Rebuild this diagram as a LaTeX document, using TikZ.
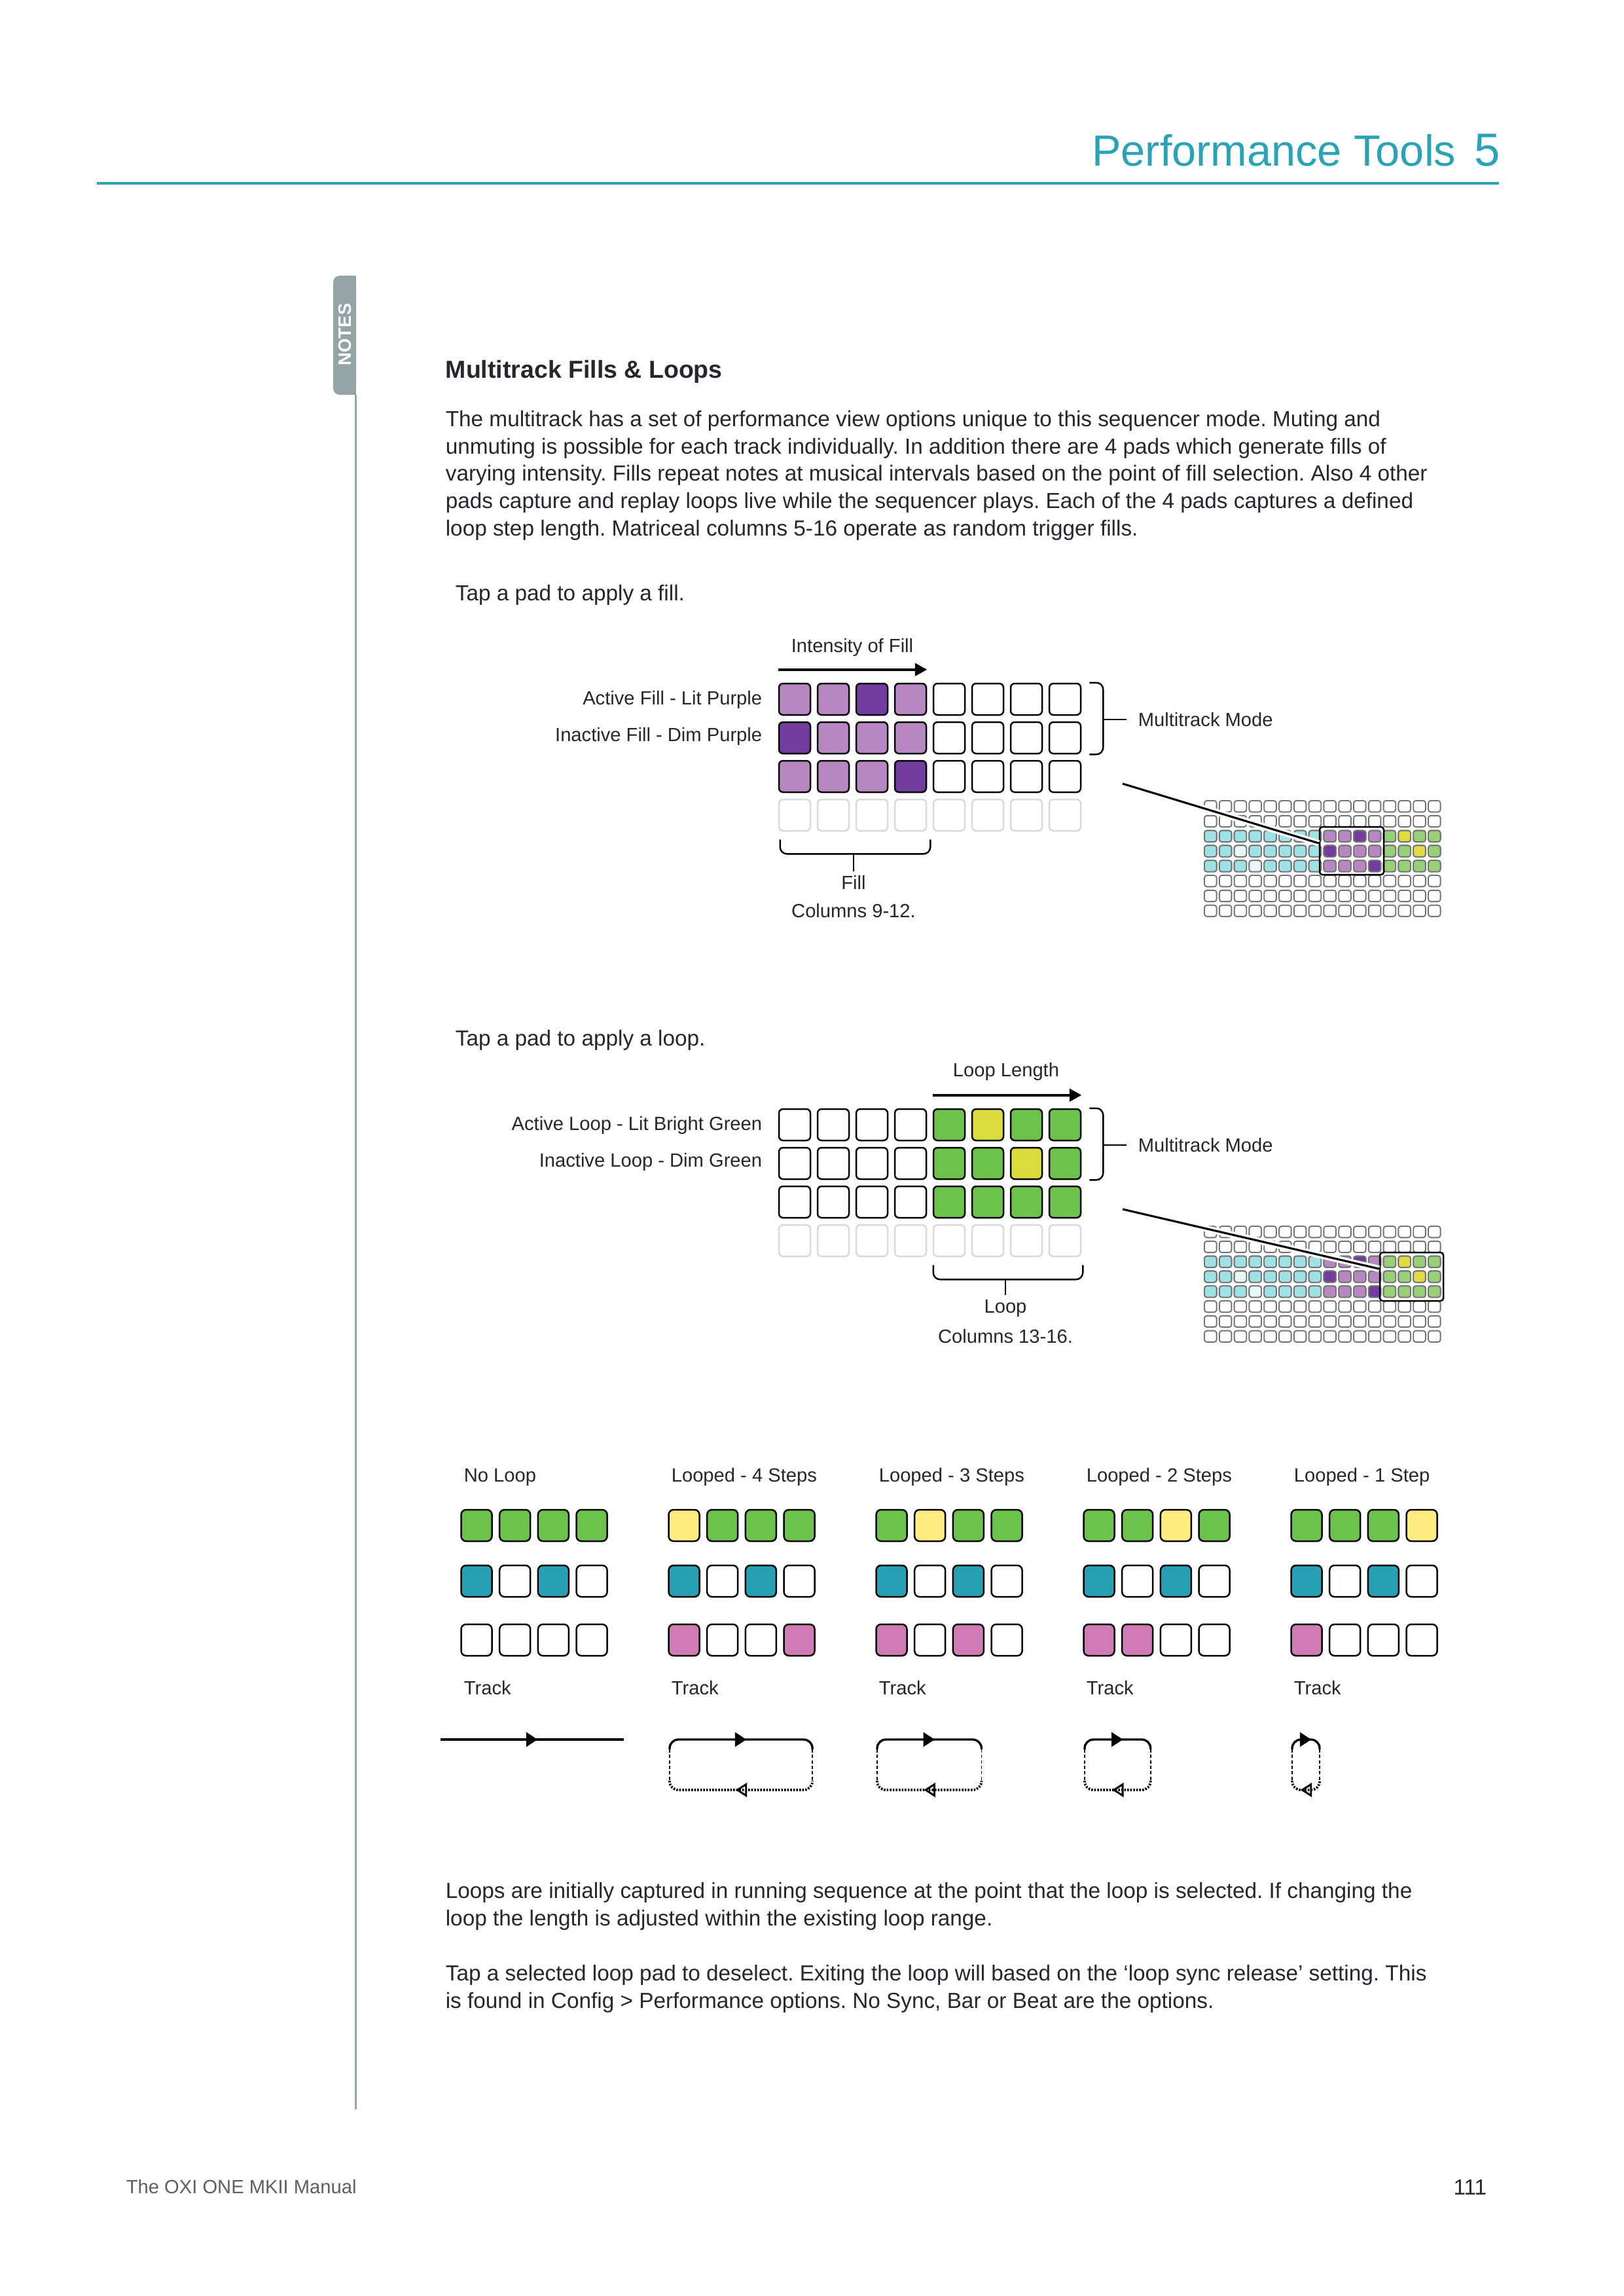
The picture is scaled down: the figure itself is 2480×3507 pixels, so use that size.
\documentclass[tikz,border=0pt]{standalone}
\usepackage{fontspec}
\setmainfont{Liberation Sans}
\usetikzlibrary{arrows.meta,decorations.markings}
\frenchspacing

\newlength{\unitpx}
\setlength{\unitpx}{0.240031pt}

\definecolor{headteal}{RGB}{42,163,184}
\definecolor{tabgray}{RGB}{147,164,167}
\definecolor{ink}{RGB}{38,38,44}
\definecolor{footgray}{RGB}{95,95,95}
\definecolor{pl}{RGB}{183,135,194}
\definecolor{pd}{RGB}{115,60,158}
\definecolor{gn}{RGB}{108,194,74}
\definecolor{yl}{RGB}{218,220,62}
\definecolor{ly}{RGB}{255,235,127}
\definecolor{bl}{RGB}{40,160,180}
\definecolor{pk}{RGB}{208,123,181}
\definecolor{cy}{RGB}{158,226,230}
\definecolor{cp}{RGB}{232,248,248}
\definecolor{mg}{RGB}{151,208,119}
\definecolor{my}{RGB}{222,220,64}

\tikzset{
  bigpad/.style={draw=black, line width=0.6pt, rounded corners=1.5pt, minimum width=48\unitpx, minimum height=48\unitpx, inner sep=0pt, fill=white},
  ghostpad/.style={bigpad, draw=black!15},
  trackpad/.style={bigpad, minimum width=47\unitpx, rounded corners=1.8pt},
  gridcell/.style={draw=black!55, line width=0.45pt, rounded corners=0.9pt},
  lbl/.style={font=\fontsize{7}{8.4}\selectfont, text=ink, inner sep=0pt},
  body/.style={font=\fontsize{8}{10}\selectfont, text=ink, align=left, inner sep=0pt, anchor=base west},
  bracket/.style={line width=0.6pt, rounded corners=2.5pt},
  zoomline/.style={line width=0.75pt, preaction={draw=white, line width=2.4pt}},
  hibox/.style={draw, line width=0.6pt, rounded corners=1pt, inner sep=0pt},
  midfill/.style={decoration={markings, mark=at position 0.5 with {\arrow[xshift=2pt]{Triangle[length=4.2pt,width=5.2pt]}}}, postaction=decorate},
  midopen/.style={decoration={markings, mark=at position 0.5 with {\arrowreversed[xshift=-2pt]{Triangle[open,length=4.2pt,width=5.2pt,line width=0.7pt]}}}, postaction=decorate},
}

\begin{document}
\begin{tikzpicture}[x=\unitpx, y=-\unitpx]

            \fill[white] (0,0) rectangle (2480,3507);
            \useasboundingbox (0,0) rectangle (2480,3507);

             %header
             \node[font=\fontsize{16}{19}\selectfont, text=headteal, anchor=base east, inner sep=0pt] (title) at (2225,254) {Performance Tools};
             \node[font=\fontsize{17}{20}\selectfont, text=headteal, anchor=base east, inner sep=0pt] (chap) at (2293,254) {5};
             \draw[headteal, line width=0.9pt] (148,280) -- (2290,280);

             %notes tab
             \fill[tabgray, rounded corners=2.4pt] (509,421) rectangle (544,603);
             \fill[tabgray] (528,421) rectangle (544,603);
             \draw[tabgray, line width=0.6pt] (543.5,603) -- (543.5,3222);
             \node[rotate=90, text=white, font=\bfseries\fontsize{6.6}{8}\selectfont, inner sep=0pt] (notes) at (527,511) {NOTES};

             % multi-line nodes sit on the baseline of their last line
             \node[body, font=\bfseries\fontsize{9}{11}\selectfont] (head) at (680,577) {Multitrack Fills \& Loops};
             \node[body] (intro) at (680,818) {The multitrack has a set of performance view options unique to this sequencer mode. Muting and\\
                 unmuting is possible for each track individually. In addition there are 4 pads which generate fills of\\
                 varying intensity. Fills repeat notes at musical intervals based on the point of fill selection. Also 4 other\\
                 pads capture and replay loops live while the sequencer plays. Each of the 4 pads captures a defined\\
                 loop step length. Matriceal columns 5-16 operate as random trigger fills.};

             %fills
             \node[body] (tapfill) at (695,917) {Tap a pad to apply a fill.};
             \foreach \r/\row in {1/{pl,pl,pd,pl,white,white,white,white},2/{pd,pl,pl,pl,white,white,white,white},3/{pl,pl,pl,pd,white,white,white,white}}
                 \foreach \col [count=\c] in \row
                     \node[bigpad, fill=\col] (f-\r-\c) at ({1214+59*(\c-1)},{1068+59*(\r-1)}) {};
             \foreach \c in {1,...,8}
                 \node[ghostpad] (f-4-\c) at ({1214+59*(\c-1)},1245) {};

             \node[lbl] (fint) at (1302,989) {Intensity of Fill};
             \draw[line width=0.9pt, -{Triangle[length=4.4pt,width=4.6pt]}] ([yshift=20\unitpx]f-1-1.north west) -- ([yshift=20\unitpx]f-1-4.north east);
             \node[lbl, anchor=east] (fact) at (1165,1069) {Active Fill - Lit Purple};
             \node[lbl, anchor=east] (finact) at (1165,1125) {Inactive Fill - Dim Purple};

             \draw[bracket] ([xshift=12\unitpx]f-1-8.north east) -- ++(21\unitpx,0) |- ([xshift=12\unitpx]f-2-8.south east);
             \coordinate (ftick) at (1684,1099);
             \node[lbl, anchor=west, inner xsep=17\unitpx] (fmode) at (1721,1099) {Multitrack Mode};
             \draw[line width=0.6pt] (ftick) -- (fmode.west);

             \draw[bracket] ([shift={(3\unitpx,-12\unitpx)}]f-4-1.south west) -- ++(0,-22\unitpx) -| ([shift={(5\unitpx,-12\unitpx)}]f-4-4.south east);
             \coordinate (fstem) at (1304,1303);
             \node[lbl] (ffill) at (1304,1348) {Fill};
             \node[lbl] (fcols) at (1304,1391) {Columns 9-12.};
             \draw[line width=0.5pt] (fstem) -- ([yshift=6\unitpx]ffill.north);

             %loops
             \node[body] (taploop) at (695,1597) {Tap a pad to apply a loop.};
             \foreach \r/\row in {1/{white,white,white,white,gn,yl,gn,gn},2/{white,white,white,white,gn,gn,yl,gn},3/{white,white,white,white,gn,gn,gn,gn}}
                 \foreach \col [count=\c] in \row
                     \node[bigpad, fill=\col] (l-\r-\c) at ({1214+59*(\c-1)},{1718+59*(\r-1)}) {};
             \foreach \c in {1,...,8}
                 \node[ghostpad] (l-4-\c) at ({1214+59*(\c-1)},1895) {};

             \node[lbl] (llen) at (1537,1637) {Loop Length};
             \draw[line width=0.9pt, -{Triangle[length=4.4pt,width=4.6pt]}] ([yshift=20\unitpx]l-1-5.north west) -- ([yshift=20\unitpx]l-1-8.north east);
             \node[lbl, anchor=east] (lact) at (1165,1719) {Active Loop - Lit Bright Green};
             \node[lbl, anchor=east] (linact) at (1165,1775) {Inactive Loop - Dim Green};

             \draw[bracket] ([xshift=12\unitpx]l-1-8.north east) -- ++(21\unitpx,0) |- ([xshift=12\unitpx]l-2-8.south east);
             \coordinate (ltick) at (1684,1749);
             \node[lbl, anchor=west, inner xsep=17\unitpx] (lmode) at (1721,1749) {Multitrack Mode};
             \draw[line width=0.6pt] (ltick) -- (lmode.west);

             \draw[bracket] ([shift={(1\unitpx,-12\unitpx)}]l-4-5.south west) -- ++(0,-22\unitpx) -| ([shift={(2\unitpx,-12\unitpx)}]l-4-8.south east);
             \coordinate (lstem) at (1536,1953);
             \node[lbl] (lloop) at (1536,1998) {Loop};
             \node[lbl] (lcols) at (1536,2041) {Columns 13-16.};
             \draw[line width=0.5pt] (lstem) -- ([yshift=6\unitpx]lloop.north);

             %mini grids
             \foreach \oy in {0,650}{
                 \foreach \r in {0,...,7}
                     \foreach \c in {0,...,15}
                         \draw[gridcell, fill=white] ({1840+22.8*\c},{1223+\oy+22.8*\r}) rectangle ++(18.6,17.3);
                 \foreach \r/\row in {2/{cy,cy,cy,cy,cy,cy,cy,cy,pl,pl,pd,pl,mg,my,mg,mg},3/{cy,cy,cp,cy,cy,cy,cy,cy,pd,pl,pl,pl,mg,mg,my,mg},4/{cy,cy,cy,cp,cy,cy,cy,cy,pl,pl,pl,pd,mg,mg,mg,mg}}
                     \foreach \col [count=\c from 0] in \row
                         \draw[gridcell, fill=\col] ({1840+22.8*\c},{1223+\oy+22.8*\r}) rectangle ++(18.6,17.3);
             }
             \node[hibox, minimum width=98\unitpx, minimum height=73\unitpx] (fbox) at (2065,1299.5) {};
             \node[hibox, minimum width=97\unitpx, minimum height=74\unitpx] (lbox) at (2156.5,1950) {};
             \coordinate (fsrc) at (1715,1197);
             \coordinate (lsrc) at (1715,1847);
             \draw[zoomline] (fsrc) -- ([yshift=11.5\unitpx]fbox.west);
             \draw[zoomline] (lsrc) -- ([yshift=12\unitpx]lbox.west);

             %loop lengths
             \foreach \g/\ttl/\ra/\rb/\rc in {0/No Loop/{gn,gn,gn,gn}/{bl,white,bl,white}/{white,white,white,white},
                     1/Looped - 4 Steps/{ly,gn,gn,gn}/{bl,white,bl,white}/{pk,white,white,pk},
                     2/Looped - 3 Steps/{gn,ly,gn,gn}/{bl,white,bl,white}/{pk,white,pk,white},
                     3/Looped - 2 Steps/{gn,gn,ly,gn}/{bl,white,bl,white}/{pk,pk,white,white},
                     4/Looped - 1 Step/{gn,gn,gn,ly}/{bl,white,bl,white}/{pk,white,white,white}}{
                 \node[lbl, anchor=west] (t-\g) at ({708+317*\g},2256) {\ttl};
                 \foreach \col [count=\c from 0] in \ra
                     \node[trackpad, fill=\col] (b-\g-1-\c) at ({728+317*\g+58.7*\c},2330) {};
                 \foreach \col [count=\c from 0] in \rb
                     \node[trackpad, fill=\col] (b-\g-2-\c) at ({728+317*\g+58.7*\c},2415) {};
                 \foreach \col [count=\c from 0] in \rc
                     \node[trackpad, fill=\col] (b-\g-3-\c) at ({728+317*\g+58.7*\c},2505) {};
                 \node[lbl, anchor=west] (k-\g) at ({708+317*\g},2578) {Track};
             }

             \draw[line width=1pt, midfill] (673,2657) -- (953,2657);
             \foreach \g/\n in {1/4,2/3,3/2,4/1}{
                 \pgfmathsetmacro{\lx}{706+317*\g}
                 \pgfmathsetmacro{\rx}{748+317*\g+58.7*(\n-1)}
                 \draw[line width=0.8pt, rounded corners=3.2pt, midfill] (\lx,2672) -- (\lx,2657) -- (\rx,2657) -- (\rx,2672);
                 \draw[line width=0.4pt, dash pattern=on 1.2pt off 0.8pt] (\lx,2672) -- (\lx,2720) (\rx,2672) -- (\rx,2720);
                 \draw[line width=0.9pt, dash pattern=on 0.6pt off 0.5pt, rounded corners=3.2pt, midopen] (\lx,2720) -- (\lx,2734) -- (\rx,2734) -- (\rx,2720);
             }

             \node[body] (outro) at (680,2941) {Loops are initially captured in running sequence at the point that the loop is selected. If changing the\\
                 loop the length is adjusted within the existing loop range.};
             \node[body] (desel) at (680,3067) {Tap a selected loop pad to deselect. Exiting the loop will based on the `loop sync release' setting. This\\
                 is found in Config > Performance options. No Sync, Bar or Beat are the options.};

             %footer
             \node[lbl, text=footgray, anchor=base west] (foot) at (192,3350) {The OXI ONE MKII Manual};
             \node[lbl, font=\fontsize{8}{10}\selectfont, anchor=base east] (pgno) at (2272,3352) {111};
\end{tikzpicture}
\end{document}
